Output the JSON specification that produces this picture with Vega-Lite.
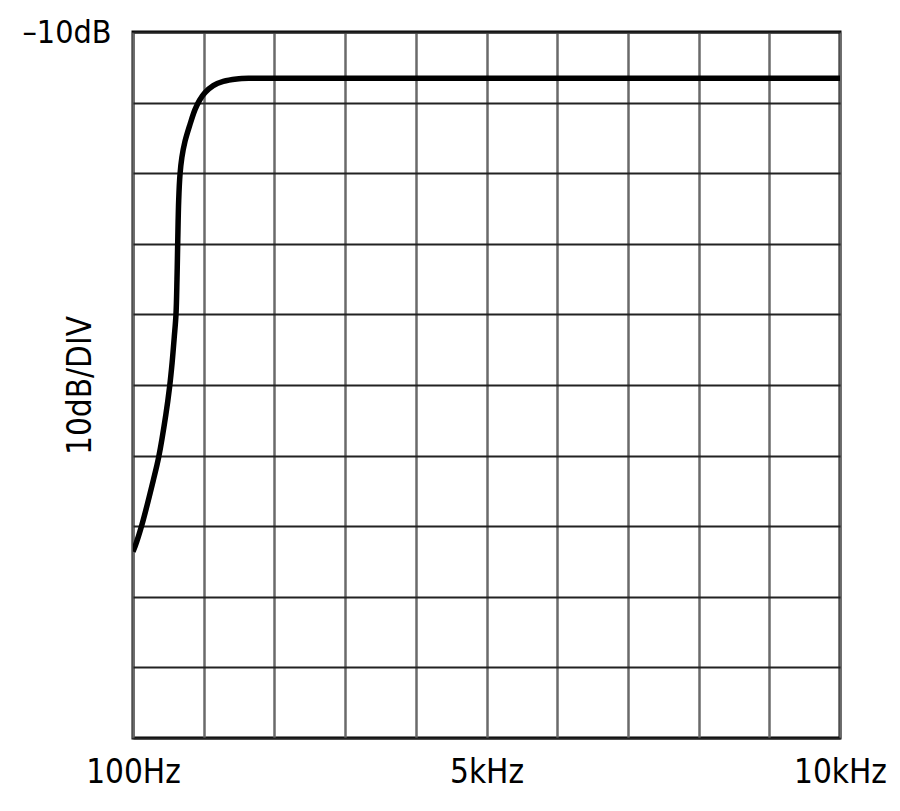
{
  "$schema": "https://vega.github.io/schema/vega-lite/v6.json",
  "width": 707,
  "height": 706,
  "autosize": {"type": "none"},
  "padding": {"left": 133, "top": 32, "right": 60, "bottom": 73},
  "background": "white",
  "config": {
    "view": {"stroke": "black", "strokeWidth": 3},
    "font": "DejaVu Sans Condensed, Liberation Sans, sans-serif"
  },
  "data": {
    "values": [
      {"freq": 100, "db": -83.6},
      {"freq": 128, "db": -82.9},
      {"freq": 222, "db": -79.9},
      {"freq": 384, "db": -73.5},
      {"freq": 460, "db": -70.2},
      {"freq": 560, "db": -64.2},
      {"freq": 612, "db": -60.3},
      {"freq": 648, "db": -56.8},
      {"freq": 678, "db": -53.2},
      {"freq": 702, "db": -50.0},
      {"freq": 716, "db": -45.0},
      {"freq": 726, "db": -39.9},
      {"freq": 740, "db": -33.8},
      {"freq": 758, "db": -30.2},
      {"freq": 784, "db": -27.8},
      {"freq": 828, "db": -25.5},
      {"freq": 898, "db": -23.1},
      {"freq": 968, "db": -21.0},
      {"freq": 1030, "db": -19.7},
      {"freq": 1108, "db": -18.6},
      {"freq": 1224, "db": -17.6},
      {"freq": 1364, "db": -17.0},
      {"freq": 1552, "db": -16.66},
      {"freq": 1738, "db": -16.56},
      {"freq": 2500, "db": -16.56},
      {"freq": 10000, "db": -16.56}
    ]
  },
  "mark": {"type": "line", "color": "black", "strokeWidth": 5.5, "interpolate": "catmull-rom", "clip": true},
  "encoding": {
    "x": {
      "field": "freq",
      "type": "quantitative",
      "scale": {"domain": [100, 10000], "nice": false, "zero": false},
      "axis": {
        "values": [100, 1090, 2080, 3070, 4060, 5050, 6040, 7030, 8020, 9010, 10000],
        "labelExpr": "datum.value == 100 ? '100Hz' : datum.value == 5050 ? '5kHz' : datum.value == 10000 ? '10kHz' : ''",
        "title": null,
        "ticks": false,
        "domain": false,
        "grid": true,
        "gridColor": "#6a6a6a",
        "gridWidth": 2.5,
        "gridOpacity": 1,
        "labelFontSize": 33,
        "labelColor": "black",
        "labelPadding": 18,
        "labelOverlap": false,
        "labelFlush": false
      }
    },
    "y": {
      "field": "db",
      "type": "quantitative",
      "scale": {"domain": [-110, -10], "nice": false, "zero": false},
      "axis": {
        "values": [-110, -100, -90, -80, -70, -60, -50, -40, -30, -20, -10],
        "labelExpr": "datum.value == -10 ? '–10dB' : ''",
        "title": "10dB/DIV",
        "titleFontSize": 33,
        "titleFontWeight": "normal",
        "titleColor": "black",
        "titleAngle": -90,
        "titleX": -53,
        "titleY": 353,
        "titleAlign": "center",
        "titleBaseline": "middle",
        "ticks": false,
        "domain": false,
        "grid": true,
        "gridColor": "#222222",
        "gridWidth": 2,
        "gridOpacity": 1,
        "labelFontSize": 32,
        "labelColor": "black",
        "labelPadding": 22,
        "labelOverlap": false,
        "labelFlush": false,
        "labelBaseline": "middle"
      }
    }
  }
}
